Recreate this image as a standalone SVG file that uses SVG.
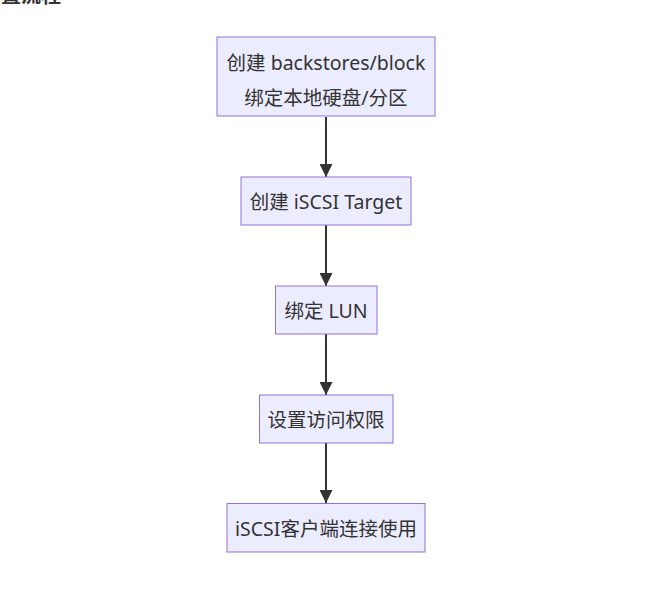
<svg xmlns="http://www.w3.org/2000/svg" width="672" height="594" viewBox="0 0 672 594">
<defs>
<style>
.node rect{fill:#ECECFF;stroke:#9370DB;stroke-width:1}
.node text{font-family:"Noto Sans","Noto Sans CJK SC",sans-serif;font-size:19.5px;fill:#333;text-anchor:middle;dominant-baseline:central}
.edge{stroke:#333;stroke-width:2;fill:none;marker-end:url(#arr)}
.title{font-family:"Noto Sans","Noto Sans CJK SC",sans-serif;font-size:20px;font-weight:bold;fill:#333;text-anchor:end}
</style>
<marker id="arr" viewBox="0 0 12 12" refX="12" refY="6" markerWidth="13" markerHeight="13" markerUnits="userSpaceOnUse" orient="auto">
<path d="M0,0 L12,6 L0,12 z" fill="#333"/>
</marker>
</defs>
<rect width="672" height="594" fill="#fff"/>
<text class="title" x="61" y="3">置流程</text>
<g id="connectors">
<path class="edge" d="M326,117 L326,177"/>
<path class="edge" d="M326,225 L326,286"/>
<path class="edge" d="M326,334 L326,395"/>
<path class="edge" d="M326,443 L326,503"/>
</g>
<g id="n1" class="node"><rect x="217" y="37" width="218" height="79"/><text x="326" y="62">创建 backstores/block</text><text x="326" y="97">绑定本地硬盘/分区</text></g>
<g id="n2" class="node"><rect x="241" y="177" width="170" height="48"/><text x="326" y="201">创建 iSCSI Target</text></g>
<g id="n3" class="node"><rect x="275.5" y="286" width="101.5" height="48"/><text x="326" y="310">绑定 LUN</text></g>
<g id="n4" class="node"><rect x="259.5" y="395" width="133.5" height="48"/><text x="326" y="419">设置访问权限</text></g>
<g id="n5" class="node"><rect x="227" y="503.5" width="198" height="48.5"/><text x="326" y="528">iSCSI客户端连接使用</text></g>
</svg>
